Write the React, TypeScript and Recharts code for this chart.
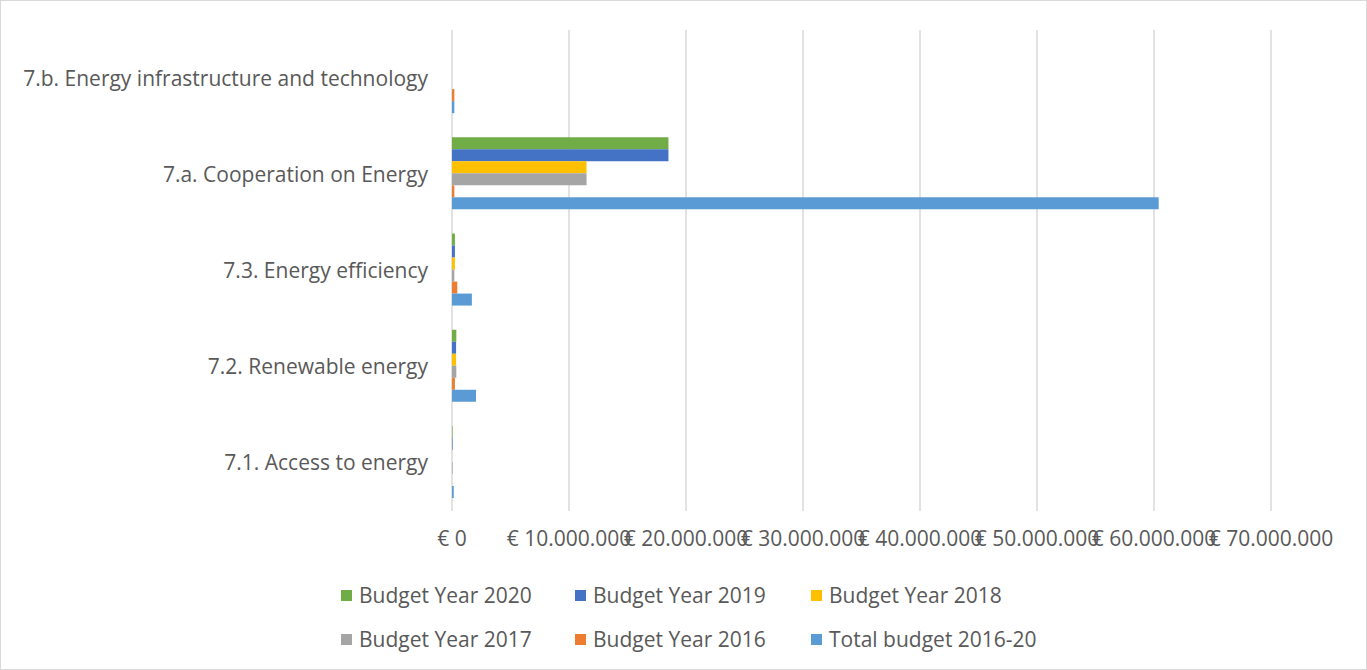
import React from 'react';
import { BarChart, Bar, XAxis, YAxis, CartesianGrid, Legend } from 'recharts';

const categories = [
  '7.b. Energy infrastructure and technology',
  '7.a. Cooperation on Energy',
  '7.3. Energy efficiency',
  '7.2. Renewable energy',
  '7.1. Access to energy',
];
const budget2020 = [0, 18500000, 250000, 370000, 50000];
const budget2019 = [0, 18500000, 250000, 350000, 50000];
const budget2018 = [0, 11500000, 250000, 350000, 0];
const budget2017 = [0, 11500000, 200000, 370000, 50000];
const budget2016 = [200000, 200000, 450000, 250000, 0];
const total2016_20 = [200000, 60400000, 1700000, 2050000, 150000];
const xTicks = [0, 10000000, 20000000, 30000000, 40000000, 50000000, 60000000, 70000000];

const seriesList = [
  { key: 'b2020', name: 'Budget Year 2020', color: '#70AD47', values: budget2020 },
  { key: 'b2019', name: 'Budget Year 2019', color: '#4472C4', values: budget2019 },
  { key: 'b2018', name: 'Budget Year 2018', color: '#FFC000', values: budget2018 },
  { key: 'b2017', name: 'Budget Year 2017', color: '#A5A5A5', values: budget2017 },
  { key: 'b2016', name: 'Budget Year 2016', color: '#ED7D31', values: budget2016 },
  { key: 'total', name: 'Total budget 2016-20', color: '#5B9BD5', values: total2016_20 },
];

const data = categories.map((c, i) => {
  const row: Record<string, any> = { name: c };
  seriesList.forEach((s) => {
    row[s.key] = s.values[i];
  });
  return row;
});

const FONT = '"Open Sans", Lato, sans-serif';
const FS = 21;
const TEXT = '#595959';

const fmt = (v: number) => {
  const s = String(Math.round(v)).replace(/\B(?=(\d{3})+(?!\d))/g, '.');
  return '€ ' + s;
};

const legendCols = [341, 575, 811];
const legendRows = [595, 639];

const LegendContent = () => (
  <div style={{ position: 'relative', width: 1367, height: 90 }}>
    {seriesList.map((s, i) => {
      const col = i % 3;
      const row = Math.floor(i / 3);
      return (
        <div
          key={s.key}
          style={{
            position: 'absolute',
            left: legendCols[col],
            top: legendRows[row] - 575 - 14,
            display: 'flex',
            alignItems: 'center',
            height: 28,
            fontFamily: FONT,
            fontSize: FS,
            color: TEXT,
            whiteSpace: 'nowrap',
          }}
        >
          <span style={{ display: 'inline-block', width: 11, height: 11, background: s.color, marginRight: 7 }} />
          <span>{s.name}</span>
        </div>
      );
    })}
  </div>
);

export default function App() {
  return (
    <div
      style={{
        position: 'absolute',
        left: 0,
        top: 0,
        width: 1367,
        height: 670,
        background: '#fff',
        boxSizing: 'border-box',
        border: '1px solid #d9d9d9',
      }}
    >
      <div style={{ position: 'absolute', left: -1, top: -1 }}>
        <BarChart
          width={1367}
          height={670}
          data={data}
          layout="vertical"
          margin={{ top: 30, right: 96, bottom: 99, left: 0 }}
          barCategoryGap="11.6%"
          barGap={0}
        >
          <CartesianGrid horizontal={false} stroke="#d9d9d9" strokeWidth={1.5} />
          <XAxis
            type="number"
            domain={[0, 70000000]}
            ticks={xTicks}
            interval={0}
            tickFormatter={fmt}
            axisLine={false}
            tickLine={false}
            tickSize={0}
            tickMargin={20}
            height={60}
            tick={{ fill: TEXT, fontSize: FS, fontFamily: FONT }}
          />
          <YAxis
            type="category"
            dataKey="name"
            width={452}
            axisLine={false}
            tickLine={false}
            tickSize={0}
            tickMargin={24}
            interval={0}
            tick={{ fill: TEXT, fontSize: FS, fontFamily: FONT }}
          />
          <Legend
            layout="horizontal"
            verticalAlign="middle"
            align="center"
            wrapperStyle={{ top: 575, left: 0, width: 1367 }}
            content={() => <LegendContent />}
          />
          {seriesList.map((s) => (
            <Bar key={s.key} dataKey={s.key} name={s.name} fill={s.color} isAnimationActive={false} />
          ))}
        </BarChart>
      </div>
    </div>
  );
}
